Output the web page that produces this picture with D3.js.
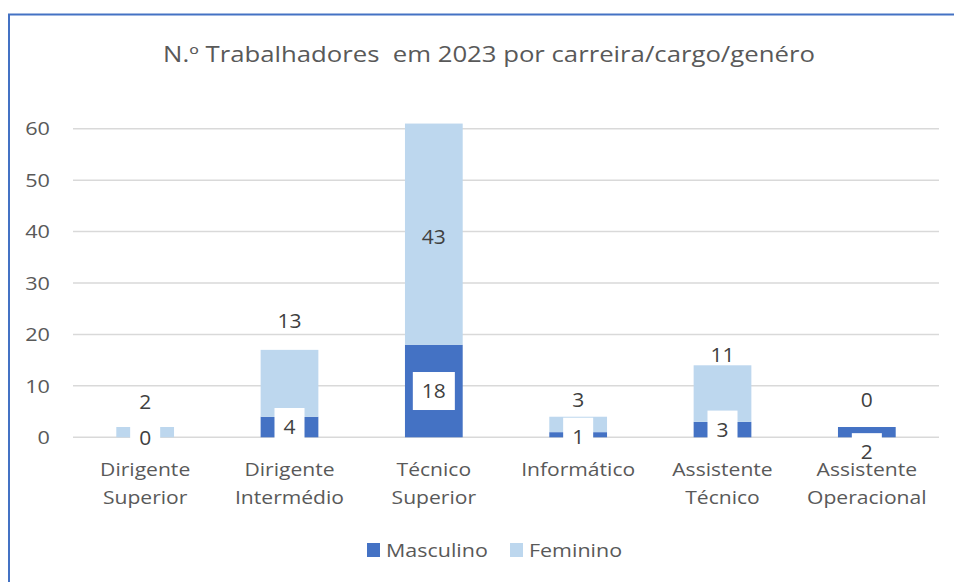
<!DOCTYPE html>
<html><head><meta charset="utf-8">
<script src="https://cdn.jsdelivr.net/npm/d3@7"></script>
<style>
body{margin:0;background:#fff}
svg{display:block}
text{font-family:'Open Sans',sans-serif;fill:#595959}
text.dl{fill:#404040}
</style>
</head><body>
<svg id="chart" width="954" height="582"></svg>
<script>
// ---- data ----
const categories = ["Dirigente Superior","Dirigente Intermédio","Técnico Superior","Informático","Assistente Técnico","Assistente Operacional"];
const masculino = [0,4,18,1,3,2];
const feminino  = [2,13,43,3,11,0];
const seriesNames = ["Masculino","Feminino"];
const yTicks = [0,10,20,30,40,50,60];
const title = "N.º Trabalhadores  em 2023 por carreira/cargo/genéro";

// ---- layout / style (manual label nudges as in the original) ----
const colors = {Masculino:"#4472C4", Feminino:"#BDD7EE"};
const femLabelDy  = [-30,-62,3,-24,-39,-27];
const mascLabelDy = [1,0,0,2,0,20];

// horizontal stretch of a text about its anchor x
function stretch(sel, ax, sx){
  sel.attr("transform",`translate(${ax},0) scale(${sx},1) translate(${-ax},0)`);
}

const svg = d3.select("#chart");
const x = d3.scaleBand().domain(categories).range([73,939]).paddingInner(0.6).paddingOuter(0.3);
const y = d3.scaleLinear().domain([0,60]).range([437.3,128.7]);

// border (left + top visible)
svg.append("path").attr("d","M9,590V14.5H960")
  .attr("fill","none").attr("stroke","#4472C4").attr("stroke-width",2);

// title
const tt = svg.append("text").attr("x",489).attr("y",55).attr("dy","0.35em").attr("text-anchor","middle")
  .attr("xml:space","preserve").style("white-space","pre").style("font-size","21px").text(title);
stretch(tt,489,1.225);

// gridlines
svg.append("g").selectAll("line").data(yTicks).join("line")
  .attr("x1",73).attr("x2",939).attr("y1",d=>y(d)).attr("y2",d=>y(d))
  .attr("stroke","#D9D9D9").attr("stroke-width",1.5);

// y tick labels
svg.append("g").selectAll("text").data(yTicks).join("text")
  .attr("x",50).attr("y",d=>y(d)).attr("dy","0.35em").attr("text-anchor","end")
  .style("font-size","19px").text(d=>d)
  .each(function(){ stretch(d3.select(this),50,1.14); });

// stacked data
const rows = categories.map((c,i)=>({cat:c, Masculino:masculino[i], Feminino:feminino[i]}));
const stacked = d3.stack().keys(seriesNames)(rows);

svg.append("g").selectAll("g").data(stacked).join("g")
  .attr("fill",d=>colors[d.key])
  .selectAll("rect").data(d=>d).join("rect")
  .attr("x",d=>x(d.data.cat)).attr("width",x.bandwidth())
  .attr("y",d=>y(d[1])).attr("height",d=>y(d[0])-y(d[1]));

// masculino labels with white boxes
const mLab = svg.append("g");
stacked[0].forEach((d,i)=>{
  const cx = x(d.data.cat)+x.bandwidth()/2;
  const cy = y((d[0]+d[1])/2)+mascLabelDy[i];
  const g = mLab.append("g");
  const t = g.append("text").attr("class","dl").attr("x",cx).attr("y",cy).attr("dy","0.35em").attr("text-anchor","middle")
    .style("font-size","20px").text(masculino[i]);
  stretch(t,cx,1.05);
  const w = t.node().getComputedTextLength()*1.05+18;
  g.insert("rect","text").attr("x",cx-w/2).attr("y",cy-19).attr("width",w).attr("height",38).attr("fill","#fff");
});

// feminino labels
svg.append("g").selectAll("text").data(stacked[1]).join("text")
  .attr("class","dl")
  .attr("x",d=>x(d.data.cat)+x.bandwidth()/2)
  .attr("y",(d,i)=>y((d[0]+d[1])/2)+femLabelDy[i]).attr("dy","0.35em")
  .attr("text-anchor","middle").style("font-size","20px").text((d,i)=>feminino[i])
  .each(function(d){ stretch(d3.select(this),x(d.data.cat)+x.bandwidth()/2,1.05); });

// category labels
const cl = svg.append("g");
categories.forEach(c=>{
  const cx = x(c)+x.bandwidth()/2;
  const t = cl.append("text").attr("text-anchor","middle").style("font-size","19px");
  c.split(" ").forEach((w,k)=>{
    t.append("tspan").attr("x",cx).attr("y",469+k*28).attr("dy","0.35em").text(w);
  });
  stretch(t,cx,1.11);
});

// legend
const leg = [{k:"Masculino",x:367},{k:"Feminino",x:510}];
leg.forEach(l=>{
  svg.append("rect").attr("x",l.x).attr("y",543).attr("width",13).attr("height",14).attr("fill",colors[l.k]);
  const t = svg.append("text").attr("x",l.x+19).attr("y",550).attr("dy","0.35em").style("font-size","19px").text(l.k);
  stretch(t,l.x+19,1.13);
});
</script>
</body></html>
